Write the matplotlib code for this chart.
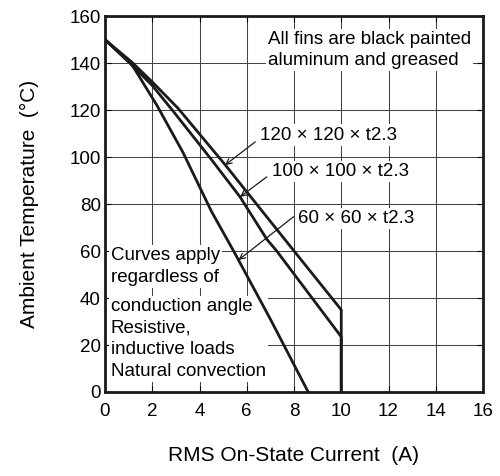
import matplotlib
matplotlib.use("Agg")
import matplotlib.pyplot as plt

plt.rcParams['font.family'] = ['Liberation Sans', 'DejaVu Sans']

# courbes (courant A, temperature degC)
i_60 = [0, 1.1, 2.2, 3.3, 4.5, 5.5, 7.0, 8.6]
t_60 = [150, 140, 122, 102, 77, 59, 31, 0]

i_100 = [0, 1.1, 2.0, 2.85, 4.5, 5.72, 6.85, 7.27, 10.0, 10.0]
t_100 = [150, 139.5, 130.5, 120, 99, 83, 65, 60, 23.5, 0]

i_120 = [0, 1.13, 2.0, 3.1, 5.08, 6.28, 7.63, 10.0, 10.0]
t_120 = [150, 140.5, 132, 120.7, 96.8, 81.7, 64.7, 35, 0]

x_ticks = list(range(0, 17, 2))
y_ticks = list(range(0, 161, 20))

fig = plt.figure(figsize=(5.0, 4.76), dpi=100)
ax = fig.add_axes([0.21, 0.1765, 0.756, 0.7895])

ax.grid(True, color='#444444', linewidth=0.75, zorder=0)
ax.set_axisbelow(True)

for xs, ys in [(i_60, t_60), (i_100, t_100), (i_120, t_120)]:
    ax.plot(xs, ys, color='#1a1a1a', linewidth=2.0, zorder=5,
            solid_joinstyle='round')

ax.set_xlim(0, 16)
ax.set_ylim(0, 160)
ax.set_xticks(x_ticks)
ax.set_yticks(y_ticks)
ax.tick_params(axis='both', direction='in', length=4, width=0.8,
               labelsize=13.5, top=True, right=True)
ax.tick_params(axis='x', pad=8)
ax.tick_params(axis='y', pad=3)
for s in ax.spines.values():
    s.set_linewidth(2.0)
    s.set_color('#1a1a1a')

ax.set_xlabel('RMS On-State Current  (A)', fontsize=15, labelpad=19)
ax.set_ylabel('Ambient Temperature  (°C)', fontsize=15, labelpad=22)

box = dict(facecolor='white', edgecolor='none', pad=1.5)
ls = 1.37

ax.text(6.9, 145.6, 'All fins are black painted\naluminum and greased',
        fontsize=13.5, ha='left', va='center', linespacing=ls,
        bbox=box, zorder=3)
ax.text(0.24, 53.4, 'Curves apply\nregardless of',
        fontsize=13.5, ha='left', va='center', linespacing=ls,
        bbox=box, zorder=3)
ax.text(0.24, 22.6, 'conduction angle\nResistive,\ninductive loads\nNatural convection',
        fontsize=13.5, ha='left', va='center', linespacing=ls,
        bbox=dict(facecolor='white', edgecolor='none', pad=1.5), zorder=3)

arrow = dict(arrowstyle='->', color='#1a1a1a', linewidth=0.9,
             shrinkA=0, shrinkB=0)
labels = ['120 × 120 × t2.3', '100 × 100 × t2.3', '60 × 60 × t2.3']
label_pos = [(6.57, 109.4), (7.06, 93.7), (8.19, 73.9)]
arrow_from = [(6.36, 106.5), (6.85, 91.6), (7.98, 74.6)]
arrow_to = [(5.08, 96.6), (5.72, 83.1), (5.65, 56.2)]
for lab, p, a0, a1 in zip(labels, label_pos, arrow_from, arrow_to):
    ax.text(p[0], p[1], lab, fontsize=13.5, ha='left', va='center',
            bbox=box, zorder=3)
    ax.annotate('', xy=a1, xytext=a0, arrowprops=arrow, zorder=6)

fig.savefig('out.png', dpi=100)
